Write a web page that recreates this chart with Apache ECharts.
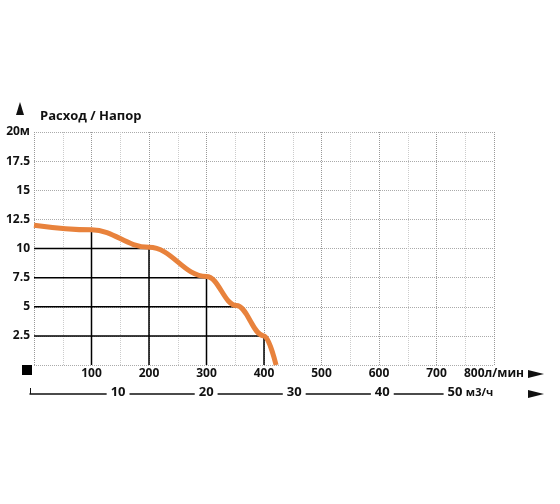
<!DOCTYPE html>
<html>
<head>
<meta charset="utf-8">
<script src="https://cdn.jsdelivr.net/npm/echarts@6/dist/echarts.min.js"></script>
<style>html,body{margin:0;padding:0;background:#fff}#chart{width:560px;height:504px}</style>
</head>
<body>
<div id="chart"></div>
<script>
// данные кривой: расход (л/мин) / напор (м)
var flowLpm = [0, 100, 200, 300, 352, 400, 421];
var headM = [12, 11.6, 10.1, 7.6, 5.1, 2.5, 0];
// опорные линии
var dropX = [100, 200, 300, 400];
var dropY = [11.6, 10.1, 7.6, 2.5];
var levelY = [10, 7.5, 5, 2.5];
var levelX = [200, 300, 352, 400];

var chart = echarts.init(document.getElementById('chart'));
var font = 'Open Sans';

var series = [];
for (var i = 0; i < dropX.length; i++) {
    series.push({type: 'line', symbol: 'none', silent: true, z: 3,
        lineStyle: {color: '#000', width: 1.5},
        data: [[dropX[i], 0], [dropX[i], dropY[i]]]});
}
for (var j = 0; j < levelY.length; j++) {
    series.push({type: 'line', symbol: 'none', silent: true, z: 3,
        lineStyle: {color: '#000', width: 1.5},
        data: [[0, levelY[j]], [levelX[j], levelY[j]]]});
}
series.push({type: 'line', symbol: 'none', smooth: 0.4, smoothMonotone: 'x', z: 5,
    lineStyle: {color: '#e8823c', width: 5},
    data: flowLpm.map(function (x, k) { return [x, headM[k]]; })});
// пустая серия для оси м3/ч
series.push({type: 'line', xAxisIndex: 1, yAxisIndex: 1, data: [], symbol: 'none'});

var option = {
    animation: false,
    grid: [
        {left: 34, right: 66, top: 132, bottom: 139},
        {left: 30, width: 458, top: 393, height: 1}
    ],
    xAxis: [{
        type: 'value', min: 0, max: 800, interval: 50,
        axisLine: {show: false}, axisTick: {show: false},
        axisLabel: {margin: 3, color: '#111', fontFamily: font, fontWeight: 'bold', fontSize: 12,
            formatter: function (v) { return (v % 100 === 0 && v > 0) ? (v === 800 ? '800л/мин' : v) : ''; }},
        splitLine: {lineStyle: {type: 'dotted', color: ['#999', '#ccc'], width: 1}}
    }, {
        type: 'value', gridIndex: 1, min: 0, max: 52, interval: 10,
        axisLine: {show: true, lineStyle: {color: '#111', width: 1.5}},
        axisTick: {show: true, inside: true, length: 6, lineStyle: {color: '#111'}},
        axisLabel: {margin: -8, color: '#111', fontFamily: font, fontWeight: 'bold', fontSize: 13,
            backgroundColor: '#fff', padding: [0, 4, 0, 4],
            formatter: function (v) { return v === 0 ? '' : (v === 50 ? '50 {u|м3/ч}' : v); },
            rich: {u: {fontFamily: font, fontWeight: 'bold', fontSize: 11, color: '#111'}}},
        splitLine: {show: false}
    }],
    yAxis: [{
        type: 'value', min: 0, max: 20, interval: 2.5,
        axisLine: {show: false}, axisTick: {show: false},
        axisLabel: {margin: 4, color: '#111', fontFamily: font, fontWeight: 'bold', fontSize: 12,
            formatter: function (v) { return v === 0 ? '' : (v === 20 ? '20м' : v); }},
        splitLine: {lineStyle: {type: 'dotted', color: '#aaa', width: 1}}
    }, {
        type: 'value', gridIndex: 1, show: false
    }],
    graphic: [
        {type: 'text', left: 40, top: 110, style: {text: 'Расход / Напор', fontFamily: font, fontWeight: 'bold', fontSize: 13, fill: '#111'}},
        {type: 'polygon', shape: {points: [[20, 102], [16, 115], [24, 115]]}, style: {fill: '#111'}},
        {type: 'rect', shape: {x: 22, y: 365, width: 10, height: 10}, style: {fill: '#000'}},
        {type: 'polygon', shape: {points: [[544, 374], [528, 370], [528, 378]]}, style: {fill: '#111'}},
        {type: 'polygon', shape: {points: [[544, 394], [528, 390], [528, 398]]}, style: {fill: '#111'}}
    ],
    series: series
};
chart.setOption(option);
</script>
</body>
</html>
